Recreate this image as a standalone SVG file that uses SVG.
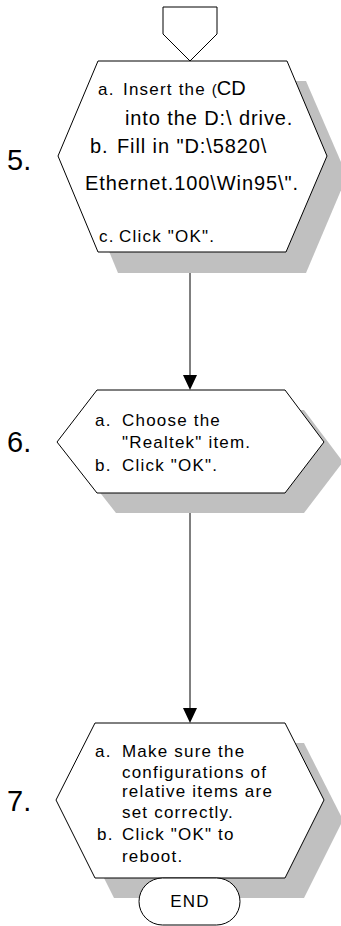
<svg xmlns="http://www.w3.org/2000/svg" width="341" height="926" viewBox="0 0 341 926">
<style>
.shape{fill:#fff;stroke:#000;stroke-width:1}
.shadow{fill:#c0c0c0;stroke:none}
.t{font-family:"Liberation Sans",Arial,sans-serif;font-size:17px;letter-spacing:1.2px;fill:#000}
.t5{font-family:"Liberation Sans",Arial,sans-serif;font-size:20px;letter-spacing:0.9px;fill:#000}
.num{font-family:"Liberation Sans",Arial,sans-serif;font-size:29px;fill:#000}
.conn{stroke:#000;stroke-width:1;fill:none}
</style>
<rect width="341" height="926" fill="#fff"/>
<g id="connectors">
<line class="conn" x1="190" y1="252" x2="190" y2="375"/>
<path d="M183,375 L197,375 L190,390 Z" fill="#000"/>
<line class="conn" x1="190" y1="493" x2="190" y2="708"/>
<path d="M183,708 L197,708 L190,723 Z" fill="#000"/>
</g>
<g id="start">
<polygon class="shape" points="163,7 217,7 217,34 190,61 163,34"/>
</g>
<g id="step5">
<polygon class="shadow" points="118,81 306,81 347,176 306,273 118,273 78,176"/>
<polygon class="shape" points="98,61 287,61 327,156 286,252 98,252 58,156"/>
<text class="num" x="7" y="170">5.</text>
<text class="t" x="98" y="95">a.<tspan x="123">Insert the </tspan><tspan font-size="15" letter-spacing="0">(</tspan><tspan font-size="20" letter-spacing="0">CD</tspan></text>
<text class="t5" x="125" y="125">into the D:\ drive.</text>
<text class="t5" x="90" y="153">b.<tspan x="117">Fill in "D:\5820\</tspan></text>
<text class="t5" x="85" y="190">Ethernet.100\Win95\".</text>
<text class="t" x="99" y="242">c.<tspan x="119">Click "OK".</tspan></text>
</g>
<g id="step6">
<polygon class="shadow" points="116,410 304,410 343,462 304,513 116,513 76,462"/>
<polygon class="shape" points="97,390 285,390 324,442 285,493 97,493 57,442"/>
<text class="num" x="7" y="452">6.</text>
<text class="t" x="95" y="426">a.<tspan x="122">Choose the</tspan></text>
<text class="t" x="122" y="448">"Realtek" item.</text>
<text class="t" x="95" y="471">b.<tspan x="122">Click "OK".</tspan></text>
</g>
<g id="step7">
<polygon class="shadow" points="114,743 304,743 343,820 304,898 114,898 75,820"/>
<polygon class="shape" points="95,723 285,723 324,800 285,878 95,878 56,800"/>
<text class="num" x="7" y="811">7.</text>
<text class="t" x="95" y="757">a.<tspan x="122">Make sure the</tspan></text>
<text class="t" x="122" y="778">configurations of</text>
<text class="t" x="122" y="797">relative items are</text>
<text class="t" x="122" y="818">set correctly.</text>
<text class="t" x="97" y="840">b.<tspan x="122">Click "OK" to</tspan></text>
<text class="t" x="122" y="862">reboot.</text>
</g>
<g id="end">
<rect class="shape" x="139" y="878" width="101" height="47" rx="23.5" ry="23.5"/>
<text class="t" x="190" y="907" text-anchor="middle" font-size="17" letter-spacing="2.5">END</text>
</g>
</svg>
